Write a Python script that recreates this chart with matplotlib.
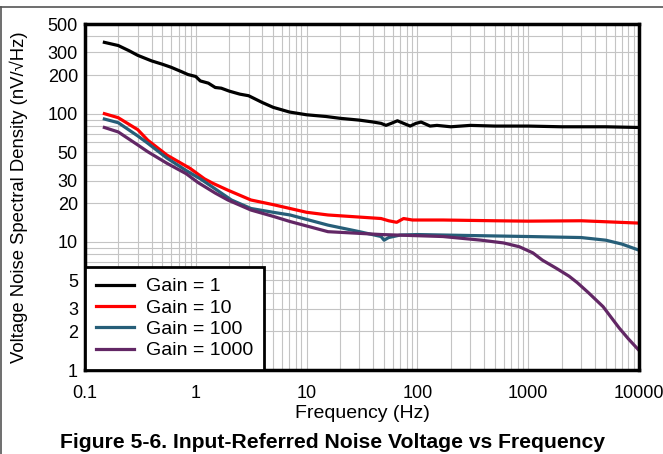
import numpy as np
import matplotlib
matplotlib.use('Agg')
import matplotlib.pyplot as plt
from matplotlib.lines import Line2D
from matplotlib.ticker import FixedLocator, NullFormatter, LogLocator

plt.rcParams['font.family'] = ['Liberation Sans', 'DejaVu Sans']

# Data (frequency in Hz, noise in nV/sqrt(Hz))
f_g1 = [0.15, 0.2, 0.25, 0.3, 0.4, 0.5, 0.6, 0.75, 0.85, 1.0, 1.1, 1.3, 1.5, 1.7, 2, 2.5, 3, 4, 5,
        7, 10, 15, 20, 30, 40, 47, 52, 58, 66, 75, 86, 97, 108, 130, 150, 200, 300, 500,
        1000, 2000, 5000, 10000]
v_g1 = [360, 340, 310, 285, 258, 243, 230, 212, 202, 195, 180, 173, 160, 158, 150, 142, 138, 122, 112,
        103, 98, 95, 92, 89, 86, 84, 81, 84, 88, 84, 80, 84, 86, 80, 81, 79, 81, 80,
        80, 79, 79, 78]

f_g10 = [0.15, 0.2, 0.3, 0.37, 0.55, 0.89, 1.2, 1.43, 1.95, 3.15, 5, 7.1, 10, 15.6, 30, 47, 55,
         65, 75, 90, 170, 500, 1000, 3000, 10000]
v_g10 = [100, 93, 75, 62, 47.5, 37.4, 31, 28.6, 25.3, 21.2, 19.5, 18.2, 17.0, 16.2, 15.6, 15.2, 14.6,
         14.2, 15.2, 14.8, 14.8, 14.6, 14.5, 14.6, 14.0]

f_g100 = [0.15, 0.2, 0.3, 0.37, 0.55, 0.82, 1.1, 1.43, 2.1, 3.15, 5, 7.1, 15.6, 30, 47, 50, 55,
          70, 100, 300, 1000, 3000, 5000, 7000, 10000]
v_g100 = [90.8, 85, 67, 58.7, 45, 36, 31, 26.6, 21.2, 18.2, 17.0, 16.2, 13.5, 12.0, 11.0, 10.3, 10.8,
          11.3, 11.4, 11.2, 11.0, 10.8, 10.3, 9.6, 8.6]

f_g1000 = [0.15, 0.2, 0.3, 0.37, 0.55, 0.82, 1.05, 1.5, 1.95, 3.15, 5, 7.1, 15.6, 47, 170, 376, 600,
           829, 1100, 1340, 1800, 2330, 2770, 3500, 4730, 6600, 8000, 10000]
v_g1000 = [78, 72, 57, 50.4, 41, 34, 29, 24, 21.2, 17.7, 15.8, 14.4, 12.0, 11.4, 11.0, 10.3, 9.8,
           9.16, 8.2, 7.2, 6.2, 5.4, 4.8, 4.0, 3.12, 2.13, 1.75, 1.42]

series = [
    ('Gain = 1', f_g1, v_g1, 'black'),
    ('Gain = 10', f_g10, v_g10, '#FF0000'),
    ('Gain = 100', f_g100, v_g100, '#265E78'),
    ('Gain = 1000', f_g1000, v_g1000, '#622765'),
]

y_ticks = [1, 2, 3, 5, 10, 20, 30, 50, 100, 200, 300, 500]
x_ticks = [0.1, 1, 10, 100, 1000, 10000]

fig = plt.figure(figsize=(6.63, 4.54), dpi=100)
ax = fig.add_axes([0.128, 0.185, 0.836, 0.762])

for label, f, v, col in series:
    ax.plot(f, v, color=col, lw=2.3, label=label)

ax.set_xscale('log')
ax.set_yscale('log')
ax.set_xlim(0.1, 10000)
ax.set_ylim(1, 500)

ax.xaxis.set_major_locator(FixedLocator(x_ticks))
ax.set_xticklabels(['0.1', '1', '10', '100', '1000', '10000'])
ax.xaxis.set_minor_locator(LogLocator(base=10, subs=np.arange(2, 10)))
ax.xaxis.set_minor_formatter(NullFormatter())

ax.yaxis.set_major_locator(FixedLocator(y_ticks))
ax.set_yticklabels([str(t) for t in y_ticks])
ax.yaxis.set_minor_locator(LogLocator(base=10, subs=np.arange(2, 10)))
ax.yaxis.set_minor_formatter(NullFormatter())

ax.grid(True, which='both', color='#C4C4C4', lw=0.8)
ax.set_axisbelow(True)
ax.tick_params(which='both', length=0, labelsize=13)
ax.tick_params(axis='y', pad=5)
ax.tick_params(axis='x', pad=11)

for s in ax.spines.values():
    s.set_linewidth(2.5)
    s.set_color('black')

ax.set_xlabel('Frequency (Hz)', fontsize=14, labelpad=2)
ax.set_ylabel('Voltage Noise Spectral Density (nV/\u221aHz)', fontsize=13.3, labelpad=14)

leg = ax.legend(loc='lower left', fontsize=14, frameon=True, fancybox=False,
                borderaxespad=0, handlelength=2.0, labelspacing=0.19, borderpad=0.55,
                handletextpad=0.6)
leg.get_frame().set_edgecolor('black')
leg.get_frame().set_linewidth(2)
leg.get_frame().set_alpha(1)

fig.text(0.502, 0.026, 'Figure 5-6. Input-Referred Noise Voltage vs Frequency',
         ha='center', va='center', fontsize=15.2, fontweight='bold')

# page border lines
fig.add_artist(Line2D([0, 1], [0.985, 0.985], color='#555555', lw=1.2))
fig.add_artist(Line2D([0.002, 0.002], [0, 0.985], color='#555555', lw=1.2))

fig.savefig('out.png', dpi=100)
